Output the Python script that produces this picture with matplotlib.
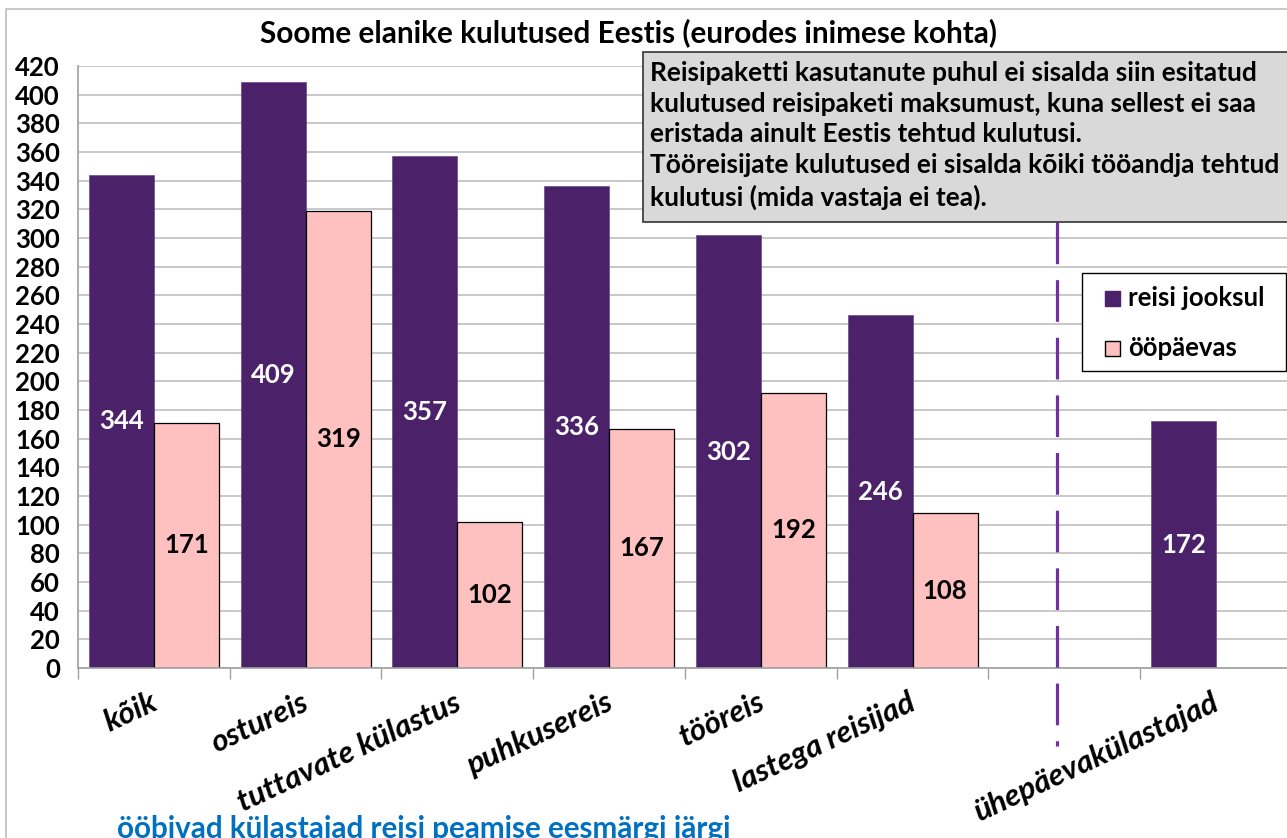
import matplotlib
matplotlib.use("Agg")
import matplotlib.pyplot as plt
from matplotlib.patches import Rectangle
from matplotlib.lines import Line2D

plt.rcParams["font.family"] = ["Lato", "DejaVu Sans"]
plt.rcParams["lines.scale_dashes"] = False

# ── data ─────────────────────────────────────────────────────────────────────
categories = ["kõik", "ostureis", "tuttavate külastus", "puhkusereis",
              "tööreis", "lastega reisijad", "", "ühepäevakülastajad"]
trip_total = [344, 409, 357, 336, 302, 246, None, 172]   # reisi jooksul
per_day = [171, 319, 102, 167, 192, 108, None, None]     # ööpäevas
y_ticks = list(range(0, 421, 20))
series_names = ["reisi jooksul", "ööpäevas"]

title = "Soome elanike kulutused Eestis (eurodes inimese kohta)"
note = ("Reisipaketti kasutanute puhul ei sisalda siin esitatud\n"
        "kulutused reisipaketi maksumust, kuna sellest ei saa\n"
        "eristada ainult Eestis tehtud kulutusi.\n"
        "Tööreisijate kulutused ei sisalda kõiki tööandja tehtud\n"
        "kulutusi (mida vastaja ei tea).")
group_label = "ööbivad külastajad reisi peamise eesmärgi järgi"

PURPLE = "#4b216a"
PINK = "#ffc0c0"
LINE_PURPLE = "#7030a0"

W, H = 1287, 838
fig = plt.figure(figsize=(W / 100, H / 100), dpi=100)

def fx(px):
    return px / W

def fy(py):
    return 1 - py / H

# plot area: x 78..1292 px, y 66..668 px
ax = fig.add_axes([fx(78), fy(668), (1292 - 78) / W, (668 - 66) / H])
ax.set_xlim(0, len(categories))
ax.set_ylim(0, 420)

bw = 0.428
for i, (a, b) in enumerate(zip(trip_total, per_day)):
    c = i + 0.5
    if a is not None:
        ax.bar(c - bw, a, width=bw, align="edge", color=PURPLE,
               edgecolor="#6a4a85", linewidth=0.5, zorder=2)
        ax.text(c - bw / 2, a / 2, str(a), ha="center", va="center",
                color="white", fontsize=18.5, fontweight="bold", zorder=4)
    if b is not None:
        ax.bar(c, b, width=bw, align="edge", color=PINK,
               edgecolor="black", linewidth=0.9, zorder=2)
        ax.text(c + bw / 2, b / 2, str(b), ha="center", va="center",
                color="black", fontsize=18.5, fontweight="bold", zorder=4)

ax.set_yticks(y_ticks)
ax.set_yticklabels([str(v) for v in y_ticks], fontsize=18.5, fontweight="bold")
ax.tick_params(axis="y", length=0, pad=13)

ax.set_xticks(range(len(categories) + 1))
ax.set_xticklabels([])
ax.tick_params(axis="x", length=8, color="#a0a0a0", width=1)

for i, cat in enumerate(categories):
    if cat:
        ax.text(i + 0.5 - 0.03, -14, cat, rotation=25, rotation_mode="anchor",
                ha="right", va="top", fontsize=22.5, fontweight="bold",
                fontstyle="italic")

ax.grid(axis="y", color="#c0c0c0", linewidth=1.2, zorder=0)
ax.set_axisbelow(True)
for s in ["top", "right"]:
    ax.spines[s].set_visible(False)
ax.spines["left"].set_color("#a0a0a0")
ax.spines["bottom"].set_color("#a0a0a0")
ax.spines["left"].set_linewidth(1.2)
ax.spines["bottom"].set_linewidth(1.2)

# dashed separator between overnight and same-day visitors
ax.plot([6.45, 6.45], [311, -54.5], color=LINE_PURPLE, linewidth=2.3,
        dashes=(30, 11.5), clip_on=False, zorder=3, dash_capstyle="butt")

# legend, drawn by hand in figure pixels
fig.add_artist(Rectangle((fx(1082), fy(371)), fx(1286 - 1082), (371 - 273) / H,
                         transform=fig.transFigure, facecolor="white",
                         edgecolor="black", linewidth=1.0, zorder=6))
for name, face, edge, yc in zip(series_names, [PURPLE, PINK], [PURPLE, "black"], [298, 348]):
    fig.add_artist(Rectangle((fx(1105), fy(yc + 8)), fx(15), 15 / H,
                             transform=fig.transFigure, facecolor=face,
                             edgecolor=edge, linewidth=1.0, zorder=7))
    fig.text(fx(1128), fy(yc), name, ha="left", va="center", fontsize=18.5,
             fontweight="bold", zorder=7)

# note box
fig.add_artist(Rectangle((fx(643), fy(222)), fx(1300 - 643), (222 - 52) / H,
                         transform=fig.transFigure, facecolor="#d9d9d9",
                         edgecolor="#333333", linewidth=1.2, zorder=5))
fig.text(fx(650), fy(61), note, ha="left", va="top", fontsize=19,
         fontweight="bold", linespacing=1.335, zorder=6)

# chart border
fig.add_artist(Line2D([fx(6), fx(6), 1], [0, fy(9), fy(9)], transform=fig.transFigure,
                      color="#bfbfbf", linewidth=1.2))

fig.text(fx(628), fy(33), title, ha="center", va="center", fontsize=21.4,
         fontweight="bold")
fig.text(fx(117), fy(829), group_label, ha="left", va="center", fontsize=21.3,
         fontweight="bold", color="#0070c0")

fig.savefig("out.png", dpi=100)
